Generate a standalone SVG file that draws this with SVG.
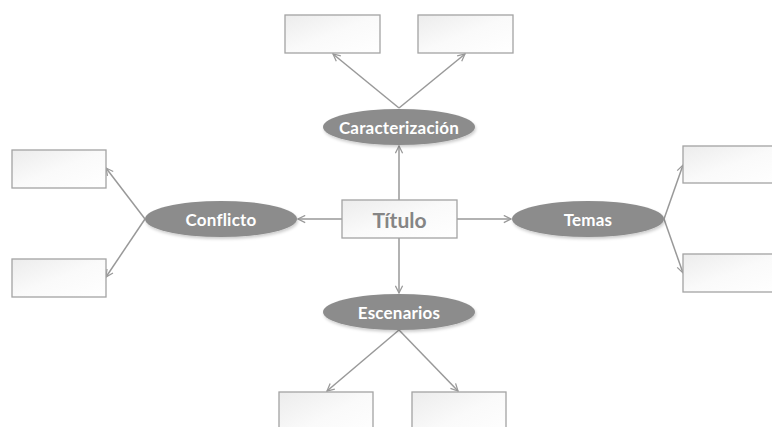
<svg xmlns="http://www.w3.org/2000/svg" width="772" height="427" viewBox="0 0 772 427">
<style>
.box{fill:url(#bg);stroke:#a3a3a3;stroke-width:1.3}
.ell{fill:#8c8c8c;filter:url(#sh)}
.lbl{font-family:Lato,"Open Sans",sans-serif;font-weight:bold;font-size:17px;fill:#ffffff;text-anchor:middle;dominant-baseline:central;letter-spacing:0.2px}
.ttl{font-family:Lato,"Open Sans",sans-serif;font-weight:bold;font-size:21px;fill:#858585;text-anchor:middle;dominant-baseline:central}
.con{stroke:#999999;stroke-width:1.5;fill:none;marker-end:url(#ar)}
</style>
<defs>
<linearGradient id="bg" x1="0" y1="0" x2="1" y2="1">
<stop offset="0" stop-color="#ececec"/>
<stop offset="0.5" stop-color="#fafafa"/>
<stop offset="1" stop-color="#ffffff"/>
</linearGradient>
<filter id="sh" x="-10%" y="-20%" width="120%" height="150%">
<feDropShadow dx="1" dy="2" stdDeviation="1.5" flood-color="#000" flood-opacity="0.2"/>
</filter>
<marker id="ar" viewBox="0 0 10 10" refX="9" refY="5" markerWidth="9" markerHeight="9" markerUnits="userSpaceOnUse" orient="auto">
<path d="M1,1 L9,5 L1,9" fill="none" stroke="#999999" stroke-width="1.4"/>
</marker>
</defs>
<rect width="772" height="427" fill="#ffffff"/>
<g id="connectors">
<line class="con" x1="399" y1="200" x2="399" y2="146"/>
<line class="con" x1="399" y1="238" x2="399" y2="293"/>
<line class="con" x1="342" y1="219" x2="298" y2="219"/>
<line class="con" x1="457" y1="219" x2="511" y2="219"/>
<line class="con" x1="399" y1="108" x2="333" y2="54"/>
<line class="con" x1="399" y1="108" x2="465" y2="54"/>
<line class="con" x1="145" y1="219" x2="106" y2="168"/>
<line class="con" x1="145" y1="219" x2="106" y2="277"/>
<line class="con" x1="664" y1="219" x2="683" y2="165"/>
<line class="con" x1="664" y1="219" x2="683" y2="273"/>
<line class="con" x1="399" y1="330" x2="327" y2="391"/>
<line class="con" x1="399" y1="330" x2="458" y2="391"/>
</g>
<g id="titulo"><rect class="box" x="342" y="200" width="115" height="38"/><text class="ttl" x="399.5" y="219">Título</text></g>
<g id="caracterizacion"><ellipse class="ell" cx="399" cy="127" rx="76" ry="18"/><text class="lbl" x="399" y="127">Caracterización</text></g>
<g id="conflicto"><ellipse class="ell" cx="221" cy="219" rx="76" ry="18"/><text class="lbl" x="221" y="219">Conflicto</text></g>
<g id="temas"><ellipse class="ell" cx="588" cy="219" rx="76" ry="18"/><text class="lbl" x="588" y="219">Temas</text></g>
<g id="escenarios"><ellipse class="ell" cx="399" cy="312" rx="76" ry="18"/><text class="lbl" x="399" y="312">Escenarios</text></g>
<g id="box-top-left"><rect class="box" x="285" y="15" width="95" height="38"/></g>
<g id="box-top-right"><rect class="box" x="418" y="15" width="95" height="38"/></g>
<g id="box-left-top"><rect class="box" x="12" y="150" width="94" height="38"/></g>
<g id="box-left-bottom"><rect class="box" x="12" y="259" width="94" height="38"/></g>
<g id="box-right-top"><rect class="box" x="683" y="146" width="100" height="37"/></g>
<g id="box-right-bottom"><rect class="box" x="683" y="254" width="100" height="38"/></g>
<g id="box-bottom-left"><rect class="box" x="279" y="392" width="94" height="50"/></g>
<g id="box-bottom-right"><rect class="box" x="412" y="392" width="94" height="50"/></g>
</svg>
